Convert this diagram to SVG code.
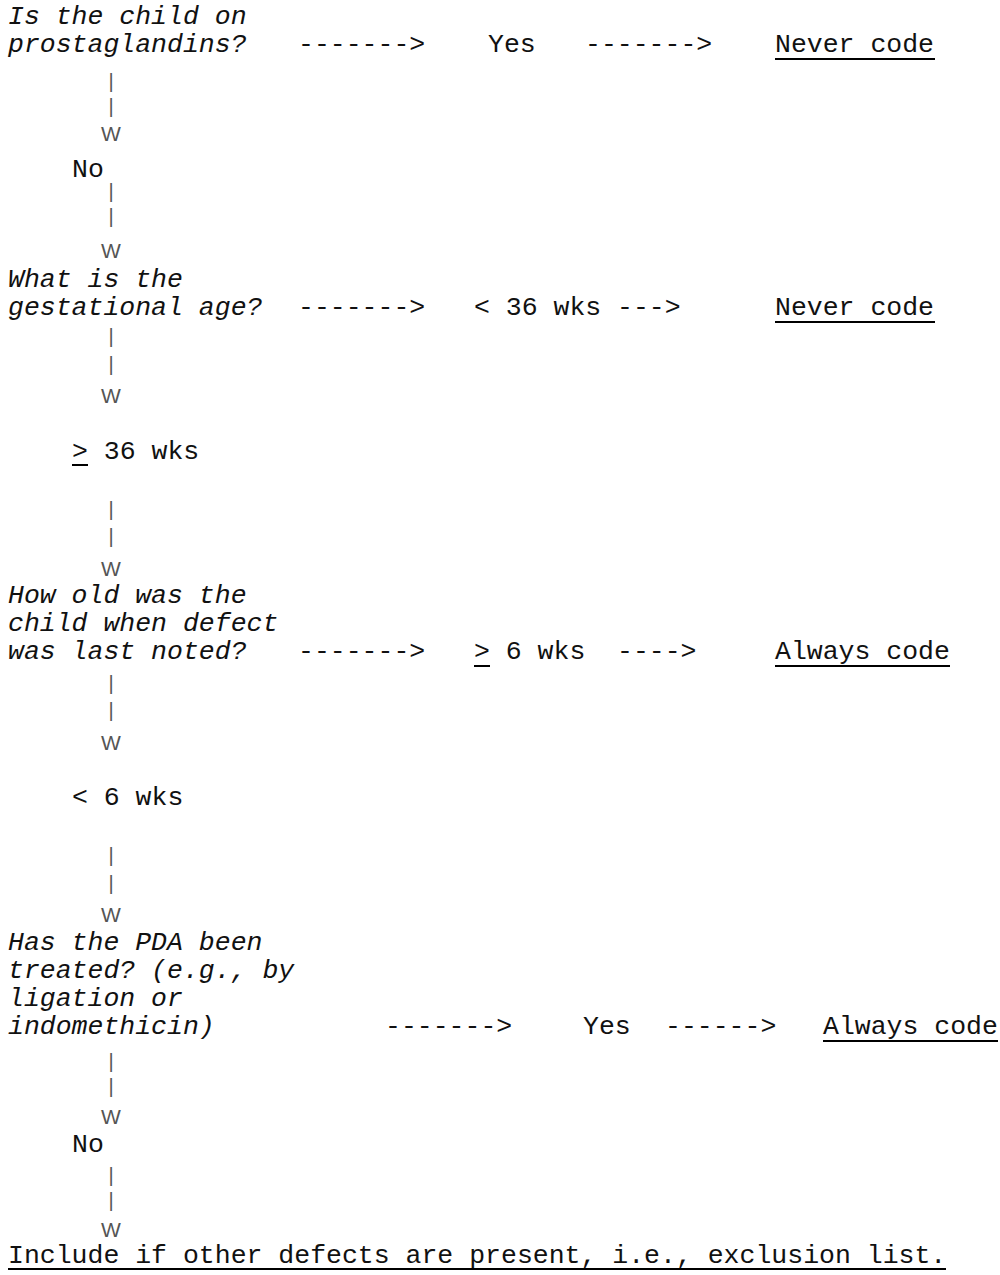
<svg xmlns="http://www.w3.org/2000/svg" width="1000" height="1275" viewBox="0 0 1000 1275">
<style>
.t{font-family:"Liberation Mono","Courier New",monospace;font-size:26.5px;fill:#111;white-space:pre}
.q{font-style:italic}
.p{font-family:"Liberation Sans",Arial,sans-serif;font-size:20px;fill:#555;text-anchor:middle}
.w{font-family:"Liberation Sans",Arial,sans-serif;font-size:21px;fill:#555;text-anchor:middle}
.u{stroke:#000;stroke-width:2}
</style>
<rect width="1000" height="1275" fill="#fff"/>
<g id="q1"><text class="t q" x="8" y="24">Is the child on</text><text class="t q" x="8" y="52">prostaglandins?</text></g>
<g id="yes1"><text class="t" x="488" y="52">Yes</text></g>
<g id="never1"><text class="t" x="775" y="52">Never code</text><line class="u" x1="775" y1="59" x2="935" y2="59"/></g>
<g id="no1"><text class="t" x="72" y="177">No</text></g>
<g id="q2"><text class="t q" x="8" y="287">What is the</text><text class="t q" x="8" y="315">gestational age?</text></g>
<g id="lt36"><text class="t" x="474" y="315">&lt; 36 wks</text></g>
<g id="never2"><text class="t" x="775" y="315">Never code</text><line class="u" x1="775" y1="322" x2="935" y2="322"/></g>
<g id="ge36"><text class="t" x="72" y="459">&gt; 36 wks</text><line class="u" x1="72" y1="465" x2="88" y2="465"/></g>
<g id="q3"><text class="t q" x="8" y="603">How old was the</text><text class="t q" x="8" y="631">child when defect</text><text class="t q" x="8" y="659">was last noted?</text></g>
<g id="ge6"><text class="t" x="474" y="659">&gt; 6 wks</text><line class="u" x1="474" y1="666" x2="490" y2="666"/></g>
<g id="always1"><text class="t" x="775" y="659">Always code</text><line class="u" x1="775" y1="666" x2="950" y2="666"/></g>
<g id="lt6"><text class="t" x="72" y="805">&lt; 6 wks</text></g>
<g id="q4"><text class="t q" x="8" y="950">Has the PDA been</text><text class="t q" x="8" y="978">treated? (e.g., by</text><text class="t q" x="8" y="1006">ligation or</text><text class="t q" x="8" y="1034">indomethicin)</text></g>
<g id="yes4"><text class="t" x="583" y="1034">Yes</text></g>
<g id="always2"><text class="t" x="823" y="1034">Always code</text><line class="u" x1="823" y1="1041" x2="998" y2="1041"/></g>
<g id="no4"><text class="t" x="72" y="1152">No</text></g>
<g id="include"><text class="t" x="8" y="1263">Include if other defects are present, i.e., exclusion list.</text><line class="u" x1="8" y1="1269" x2="946" y2="1269"/></g>
<g id="connectors">
<text class="t" x="298" y="52">-------&gt;</text>
<text class="t" x="585" y="52">-------&gt;</text>
<text class="p" x="111" y="88">|</text><text class="p" x="111" y="113">|</text><text class="w" x="111" y="141">W</text>
<text class="p" x="111" y="198">|</text><text class="p" x="111" y="223">|</text><text class="w" x="111" y="258">W</text>
<text class="t" x="298" y="315">-------&gt;</text>
<text class="t" x="617" y="315">---&gt;</text>
<text class="p" x="111" y="343">|</text><text class="p" x="111" y="371">|</text><text class="w" x="111" y="403">W</text>
<text class="p" x="111" y="516">|</text><text class="p" x="111" y="543">|</text><text class="w" x="111" y="576">W</text>
<text class="t" x="298" y="659">-------&gt;</text>
<text class="t" x="617" y="659">----&gt;</text>
<text class="p" x="111" y="690">|</text><text class="p" x="111" y="717">|</text><text class="w" x="111" y="750">W</text>
<text class="p" x="111" y="862">|</text><text class="p" x="111" y="890">|</text><text class="w" x="111" y="922">W</text>
<text class="t" x="385" y="1034">-------&gt;</text>
<text class="t" x="665" y="1034">------&gt;</text>
<text class="p" x="111" y="1068">|</text><text class="p" x="111" y="1093">|</text><text class="w" x="111" y="1124">W</text>
<text class="p" x="111" y="1182">|</text><text class="p" x="111" y="1207">|</text><text class="w" x="111" y="1237">W</text>
</g>
</svg>
